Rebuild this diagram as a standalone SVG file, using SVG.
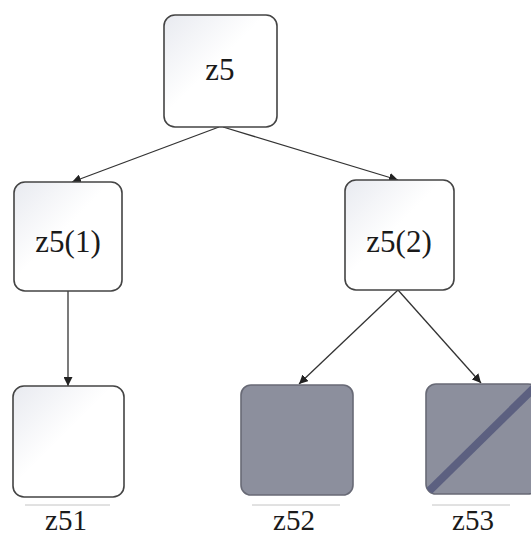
<svg xmlns="http://www.w3.org/2000/svg" width="531" height="537" viewBox="0 0 531 537">
  <defs>
    <linearGradient id="paleFill" x1="0" y1="0" x2="1" y2="1">
      <stop offset="0" stop-color="#e8eaf0"/>
      <stop offset="0.45" stop-color="#ffffff"/>
      <stop offset="1" stop-color="#ffffff"/>
    </linearGradient>
    <marker id="arrow" viewBox="0 0 10 10" refX="10" refY="5" markerWidth="9" markerHeight="9" orient="auto" markerUnits="userSpaceOnUse">
      <path d="M0,0 L10,5 L0,10 z" fill="#222"/>
    </marker>
    <clipPath id="z53clip">
      <rect x="426" y="384" width="112" height="110" rx="10"/>
    </clipPath>
  </defs>
  <style>
    .box { fill: url(#paleFill); stroke: #444; stroke-width: 1.6; }
    .dark { fill: #8c8f9d; stroke: #686a76; stroke-width: 1.6; }
    .label { font-family: "Liberation Serif", "Times New Roman", serif; font-size: 31px; fill: #1a1a1a; text-anchor: middle; }
    .caption { font-family: "Liberation Serif", "Times New Roman", serif; font-size: 29px; fill: #1a1a1a; text-anchor: middle; }
    .edge { stroke: #333; stroke-width: 1.3; fill: none; marker-end: url(#arrow); }
    .rule { stroke: #c4c4c4; stroke-width: 1; }
  </style>
  <rect width="531" height="537" fill="#ffffff"/>

  <g id="connectors">
    <line class="edge" x1="219" y1="127" x2="72" y2="182"/>
    <line class="edge" x1="223" y1="127" x2="398" y2="180"/>
    <line class="edge" x1="68" y1="291" x2="68" y2="386"/>
    <line class="edge" x1="398" y1="290" x2="299" y2="384"/>
    <line class="edge" x1="398" y1="290" x2="481" y2="383"/>
  </g>

  <g id="z5">
    <rect class="box" x="164" y="15" width="113" height="112" rx="11"/>
    <text class="label" x="220" y="80">z5</text>
  </g>

  <g id="z5-1">
    <rect class="box" x="14" y="182" width="108" height="109" rx="11"/>
    <text class="label" x="68" y="252">z5(1)</text>
  </g>

  <g id="z5-2">
    <rect class="box" x="345" y="180" width="109" height="110" rx="11"/>
    <text class="label" x="399" y="252">z5(2)</text>
  </g>

  <g id="z51">
    <rect class="box" x="13" y="386" width="111" height="111" rx="11"/>
    <line class="rule" x1="25" y1="505" x2="110" y2="505"/>
    <text class="caption" x="66" y="530">z51</text>
  </g>

  <g id="z52">
    <rect class="dark" x="241" y="385" width="112" height="110" rx="10"/>
    <line class="rule" x1="252" y1="505" x2="340" y2="505"/>
    <text class="caption" x="294" y="530">z52</text>
  </g>

  <g id="z53">
    <rect class="dark" x="426" y="384" width="112" height="110" rx="10"/>
    <line x1="426" y1="494" x2="538" y2="384" stroke="#5c6080" stroke-width="8" clip-path="url(#z53clip)"/>
    <line class="rule" x1="432" y1="505" x2="510" y2="505"/>
    <text class="caption" x="473" y="530">z53</text>
  </g>
</svg>
